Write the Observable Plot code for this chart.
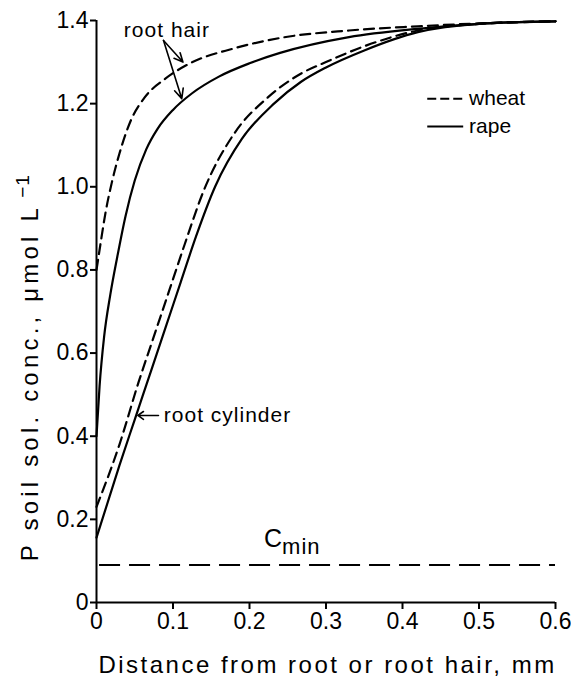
<!DOCTYPE html>
<html>
<head>
<meta charset="utf-8">
<script src="https://cdn.jsdelivr.net/npm/d3@7"></script>
<script src="https://cdn.jsdelivr.net/npm/@observablehq/plot@0.6"></script>
<style>
  html, body { margin: 0; padding: 0; background: #fff; }
  #chart svg { display: block; }
</style>
</head>
<body>
<div id="chart"></div>
<script>
// ---- Data ----
const xTicks = [0, 0.1, 0.2, 0.3, 0.4, 0.5, 0.6];
const yTicks = [0, 0.2, 0.4, 0.6, 0.8, 1.0, 1.2, 1.4];

// root hair, wheat (dashed)
const wheatHairX = [0, 0.005, 0.012, 0.02, 0.03, 0.045, 0.063, 0.09, 0.12, 0.18, 0.24, 0.33, 0.42, 0.5, 0.6];
const wheatHairY = [0.80, 0.86, 0.94, 1.01, 1.08, 1.16, 1.215, 1.26, 1.295, 1.333, 1.358, 1.376, 1.386, 1.393, 1.398];

// root hair, rape (solid)
const rapeHairX = [0, 0.004, 0.01, 0.018, 0.027, 0.038, 0.05, 0.065, 0.08, 0.1, 0.125, 0.16, 0.2, 0.24, 0.33, 0.42, 0.5, 0.6];
const rapeHairY = [0.40, 0.52, 0.64, 0.74, 0.83, 0.93, 1.015, 1.09, 1.14, 1.185, 1.225, 1.265, 1.297, 1.322, 1.36, 1.38, 1.392, 1.398];

// root cylinder, wheat (dashed)
const wheatCylX = [0, 0.03, 0.055, 0.075, 0.095, 0.115, 0.14, 0.18, 0.224, 0.267, 0.3, 0.35, 0.42, 0.5, 0.6];
const wheatCylY = [0.23, 0.38, 0.53, 0.64, 0.75, 0.86, 0.99, 1.128, 1.215, 1.272, 1.30, 1.338, 1.376, 1.392, 1.398];

// root cylinder, rape (solid)
const rapeCylX = [0, 0.03, 0.05, 0.07, 0.09, 0.11, 0.13, 0.155, 0.19, 0.232, 0.267, 0.3, 0.35, 0.42, 0.5, 0.6];
const rapeCylY = [0.156, 0.33, 0.44, 0.55, 0.66, 0.77, 0.88, 1.0, 1.115, 1.2, 1.252, 1.287, 1.328, 1.372, 1.392, 1.398];

// minimum concentration
const cmin = [0.09];

// texts
const legendLabels = ["wheat", "rape"];
const xLabel = "Distance from root or root hair, mm";
const yLabel = "P soil sol. conc., μmol L";
const ySup = "−1";
const hairLabel = "root hair";
const cylLabel = "root cylinder";

// ---- build tables ----
const toRows = (xs, ys) => xs.map((x, i) => ({x, y: ys[i]}));
const wheatHair = toRows(wheatHairX, wheatHairY);
const rapeHair = toRows(rapeHairX, rapeHairY);
const wheatCyl = toRows(wheatCylX, wheatCylY);
const rapeCyl = toRows(rapeCylX, rapeCylY);

// annotation placement (data coordinates)
const hairArrows = [
  {x1: 0.0876, y1: 1.352, x2: 0.113, y2: 1.30},
  {x1: 0.0876, y1: 1.352, x2: 0.1115, y2: 1.212}
];
const cylArrow = [{x1: 0.081, y1: 0.45, x2: 0.054, y2: 0.45}];
const legendY = [1.212, 1.145];
const legendX1 = 0.433, legendX2 = 0.48, legendTextX = 0.487;

const tickFmt = d => d === 0 ? "0" : d.toFixed(1);
const font = "'Liberation Sans', Arial, sans-serif";

const chart = Plot.plot({
  width: 571,
  height: 677,
  marginLeft: 96,
  marginRight: 16,
  marginTop: 20,
  marginBottom: 75,
  x: {domain: [0, 0.6]},
  y: {domain: [0, 1.4]},
  style: {fontFamily: font, background: "#fff", color: "#000"},
  marks: [
    Plot.axisX({ticks: xTicks, tickFormat: tickFmt, tickSize: 7, tickPadding: 3, fontSize: 23, strokeWidth: 2, label: null}),
    Plot.axisY({ticks: yTicks, tickFormat: tickFmt, tickSize: 6, tickPadding: 2, fontSize: 23, strokeWidth: 2, label: null}),
    Plot.ruleX([0], {y1: 0, y2: 1.4, stroke: "#000", strokeWidth: 2}),
    Plot.ruleY([0], {x1: 0, x2: 0.6, stroke: "#000", strokeWidth: 2}),
    // Cmin
    Plot.ruleY(cmin, {x1: 0.004, x2: 0.6, stroke: "#000", strokeWidth: 2, strokeDasharray: "21,9"}),
    // curves
    Plot.line(wheatHair, {x: "x", y: "y", curve: "monotone-x", stroke: "#000", strokeWidth: 2.2, strokeDasharray: "10,6"}),
    Plot.line(wheatCyl, {x: "x", y: "y", curve: "monotone-x", stroke: "#000", strokeWidth: 2.2, strokeDasharray: "10,6"}),
    Plot.line(rapeHair, {x: "x", y: "y", curve: "monotone-x", stroke: "#000", strokeWidth: 2.2}),
    Plot.line(rapeCyl, {x: "x", y: "y", curve: "monotone-x", stroke: "#000", strokeWidth: 2.2}),
    // annotations
    Plot.arrow(hairArrows, {x1: "x1", y1: "y1", x2: "x2", y2: "y2", stroke: "#000", strokeWidth: 1.6, headLength: 10, headAngle: 50}),
    Plot.arrow(cylArrow, {x1: "x1", y1: "y1", x2: "x2", y2: "y2", stroke: "#000", strokeWidth: 1.6, headLength: 9, headAngle: 70}),
    Plot.text([hairLabel], {x: 0.092, y: 1.377, text: d => d, fontSize: 21, textAnchor: "middle", lineAnchor: "middle", fill: "#000"}),
    Plot.text([cylLabel], {x: 0.088, y: 0.45, text: d => d, fontSize: 21, textAnchor: "start", lineAnchor: "middle", fill: "#000"}),
    Plot.text(["Cmin"], {x: 0.219, y: 0.152, text: d => d, fontSize: 25, textAnchor: "start", lineAnchor: "middle", fill: "#000"}),
    // legend
    Plot.ruleY([legendY[0]], {x1: legendX1, x2: legendX2, stroke: "#000", strokeWidth: 2, strokeDasharray: "9,4"}),
    Plot.ruleY([legendY[1]], {x1: legendX1, x2: legendX2, stroke: "#000", strokeWidth: 2}),
    Plot.text(legendLabels, {x: legendTextX, y: (d, i) => legendY[i], text: d => d, fontSize: 21, textAnchor: "start", lineAnchor: "middle", fill: "#000"}),
    // axis labels
    Plot.text([xLabel], {x: 0.302, y: 0, dy: 63, text: d => d, fontSize: 24, textAnchor: "middle", lineAnchor: "middle", fill: "#000"}),
    Plot.text([yLabel], {x: 0, y: 0.565, dx: -66, rotate: -90, text: d => d, fontSize: 24, textAnchor: "middle", lineAnchor: "middle", fill: "#000"})
  ]
});

document.getElementById("chart").appendChild(chart);

// ---- post-processing of text styling ----
const svg = d3.select(chart);
svg.selectAll("text").each(function() {
  const t = d3.select(this);
  const s = this.textContent;
  if (s === xLabel) {
    t.attr("letter-spacing", "2.5px");
  } else if (s === yLabel) {
    t.attr("letter-spacing", "4.2px");
    t.append("tspan").attr("dy", "-0.5em").attr("font-size", 19).attr("letter-spacing", "1px").text(" " + ySup);
  } else if (s === "Cmin") {
    this.textContent = "C";
    t.append("tspan").attr("dy", "0.3em").attr("font-size", 22).attr("letter-spacing", "1px").text("min");
  } else if (s === hairLabel || s === cylLabel) {
    t.attr("letter-spacing", "1px");
  }
});
</script>
</body>
</html>
